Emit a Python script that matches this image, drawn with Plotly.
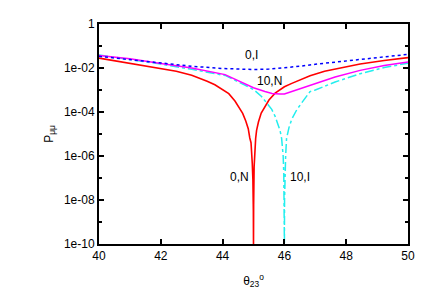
import math
import plotly.graph_objects as go

# theta23 (degrees) and P_mumu values
theta_0N = [40, 41, 42, 42.5, 43, 43.25, 43.5, 43.75, 44, 44.2, 44.4, 44.56, 44.65, 44.75, 44.83, 44.88,
            44.92, 44.96, 44.98, 44.995, 45.0,
            45.005, 45.02, 45.04, 45.07, 45.1, 45.16, 45.25, 45.37, 45.5, 45.7, 46.0, 46.24, 46.83,
            47.3, 47.64, 48.45, 49.23, 50]
p_0N = [2.8e-2, 1.66e-2, 9.8e-3, 7.1e-3, 4.7e-3, 3.5e-3, 2.5e-3, 1.74e-3, 1.07e-3, 6.8e-4, 3.16e-4,
        1.32e-4, 8.7e-5, 3.9e-5, 1.74e-5, 6.6e-6,
        4.0e-6, 4.7e-7, 8.9e-8, 3.2e-9, 1e-10,
        6.3e-9, 3.2e-7, 1.6e-6, 6.3e-6, 1.45e-5, 3.5e-5, 8.9e-5, 1.86e-4, 3.5e-4, 7.2e-4, 1.41e-3,
        2.0e-3, 4.4e-3, 7.1e-3, 8.7e-3, 1.51e-2, 2.19e-2, 2.95e-2]

theta_0I = [40, 41, 42, 43, 44, 44.5, 45, 45.5, 46, 46.5, 47, 47.5, 48, 48.5, 49, 49.5, 50]
p_0I = [3.4e-2, 2.4e-2, 1.66e-2, 1.2e-2, 9.5e-3, 8.9e-3, 8.5e-3, 8.9e-3, 1.0e-2, 1.2e-2, 1.48e-2,
        1.74e-2, 2.04e-2, 2.4e-2, 2.88e-2, 3.47e-2, 4.17e-2]

theta_10N = [40, 41, 42, 43, 44.08, 44.72, 45.0, 45.37, 45.6, 45.86, 46.0, 46.24, 46.5, 46.83, 47.31,
             47.64, 48.45, 49.23, 50]
p_10N = [3.7e-2, 2.63e-2, 1.62e-2, 1.0e-2, 5.0e-3, 2.0e-3, 1.26e-3, 8.5e-4, 6.9e-4, 6.5e-4, 6.6e-4,
         8.5e-4, 1.12e-3, 1.66e-3, 2.75e-3, 3.9e-3, 7.8e-3, 1.29e-2, 1.9e-2]

theta_10I = [40, 41, 42, 43, 44.1, 44.72, 45.0, 45.26, 45.42, 45.59, 45.7, 45.8, 45.86, 45.91, 45.96,
             45.98, 45.995, 46.0,
             46.005, 46.02, 46.04, 46.07, 46.15, 46.24, 46.4, 46.56, 46.83, 47.0, 47.31, 47.64, 48.45,
             49.23, 50]
p_10I = [3.9e-2, 2.5e-2, 1.51e-2, 8.7e-3, 4.5e-3, 1.66e-3, 1.05e-3, 5.1e-4, 2.8e-4, 1.32e-4, 6.3e-5,
         2.5e-5, 1.41e-5, 6.3e-6, 1.0e-6,
         1.6e-7, 1.0e-8, 1e-10,
         1.0e-8, 1.6e-7, 1.0e-6, 6.3e-6, 2.0e-5, 4.8e-5, 1.26e-4, 2.6e-4, 8.5e-4, 1.0e-3, 1.5e-3,
         2.3e-3, 5.5e-3, 1.05e-2, 1.66e-2]

y_tickvals = [1, 1e-2, 1e-4, 1e-6, 1e-8, 1e-10]
y_ticktext = ["1", "1e-02", "1e-04", "1e-06", "1e-08", "1e-10"]
y_minor = [1e-1, 1e-3, 1e-5, 1e-7, 1e-9]
x_tickvals = [40, 42, 44, 46, 48, 50]

label_text = ["0,I", "10,N", "0,N", "10,I"]
label_theta = [44.92, 45.53, 44.56, 46.5]
label_p = [3.8e-2, 2.7e-3, 1.1e-7, 1.1e-7]

fig = go.Figure()
fig.add_trace(go.Scatter(x=theta_0N, y=p_0N, mode="lines", line=dict(color="#ff0000", width=1.6)))
fig.add_trace(go.Scatter(x=theta_10I, y=p_10I, mode="lines", line=dict(color="#22eeee", width=1.5, dash="dashdot")))
fig.add_trace(go.Scatter(x=theta_10N, y=p_10N, mode="lines", line=dict(color="#ff00ff", width=1.5)))
fig.add_trace(go.Scatter(x=theta_0I, y=p_0I, mode="lines", line=dict(color="#0000ff", width=1.5, dash="dot")))

for txt, xx, yy in zip(label_text, label_theta, label_p):
    fig.add_annotation(x=xx, y=math.log10(yy), text=txt, showarrow=False,
                       font=dict(size=12, color="black"))

fig.update_layout(
    width=424, height=294,
    margin=dict(l=91, r=24, t=9, b=58),
    paper_bgcolor="white", plot_bgcolor="white",
    showlegend=False,
    font=dict(family="Liberation Sans, Arial, sans-serif", size=12, color="black"),
)
fig.update_xaxes(range=[40, 50], tickvals=x_tickvals, ticks="inside", ticklen=5, tickwidth=1.5,
                 tickcolor="black", showline=True, linecolor="black", linewidth=2, mirror="ticks",
                 showgrid=False, zeroline=False,
                 title=dict(text="θ<sub>23</sub><sup>o</sup>", standoff=14, font=dict(size=12)))
fig.update_yaxes(type="log", range=[-10, 0], tickvals=y_tickvals, ticktext=y_ticktext,
                 ticks="inside", ticklen=5, tickwidth=1.5, tickcolor="black",
                 minor=dict(tickvals=y_minor, ticks="inside", ticklen=3, tickcolor="black", tickwidth=1.5),
                 showline=True, linecolor="black", linewidth=2, mirror="ticks",
                 showgrid=False, zeroline=False,
                 title=dict(text="P<sub>μμ</sub>", standoff=8, font=dict(size=12)))

fig.write_html("out.html")
